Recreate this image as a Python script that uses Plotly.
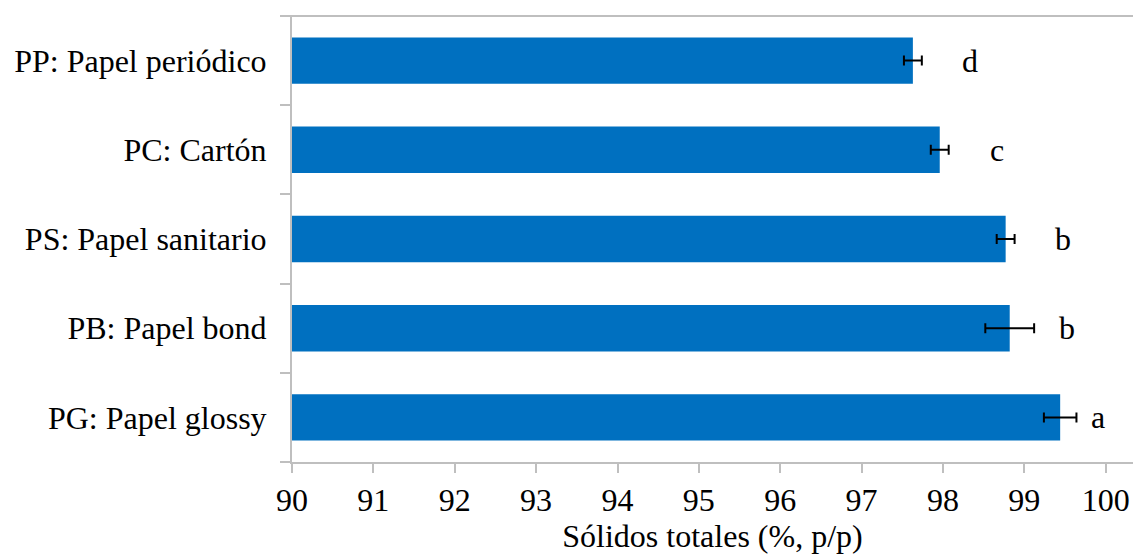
import plotly.graph_objects as go

# Total solids by paper type (mean ± SD) with significance letters
categories = [
    "PG: Papel glossy",
    "PB: Papel bond",
    "PS: Papel sanitario",
    "PC: Cartón",
    "PP: Papel periódico",
]
solids = [99.44, 98.82, 98.77, 97.96, 97.63]
sd = [0.20, 0.30, 0.11, 0.11, 0.11]
letters = ["a", "b", "b", "c", "d"]
x_ticks = list(range(90, 101))

FONT = "Liberation Serif, Times New Roman, serif"
GREY = "#bfbfbf"
FS = 32

fig = go.Figure()
fig.add_trace(go.Bar(
    y=categories,
    x=solids,
    base=0,
    orientation="h",
    marker=dict(color="#0070c0", line=dict(width=0)),
    error_x=dict(type="data", array=sd, visible=True,
                 color="black", thickness=2, width=5),
    showlegend=False,
))

# Significance letters to the right of each bar
for cat, v, e, lab in zip(categories, solids, sd, letters):
    fig.add_annotation(
        x=min(v + 0.7, 99.9), y=cat, text=lab, showarrow=False,
        xanchor="center", yanchor="middle",
        font=dict(family=FONT, size=FS, color="black"),
    )

# Frame line along the top of the plot area
fig.add_shape(type="line", xref="paper", yref="paper",
              x0=-10 / 841, x1=1, y0=1, y1=1,
              line=dict(color=GREY, width=2))

fig.update_layout(
    width=1133, height=557,
    margin=dict(l=292, r=0, t=16, b=95),
    paper_bgcolor="white", plot_bgcolor="white",
    bargap=0.48,
    font=dict(family=FONT, size=FS, color="black"),
    xaxis=dict(
        range=[90, 100.335], tickvals=x_ticks, ticktext=[str(t) for t in x_ticks],
        showgrid=False, zeroline=False,
        showline=True, linecolor=GREY, linewidth=2,
        ticks="outside", ticklen=9, tickcolor=GREY, tickwidth=2,
        tickfont=dict(family=FONT, size=FS, color="black"),
        ticklabelstandoff=0,
        title=dict(text="Sólidos totales (%, p/p)", standoff=6,
                   font=dict(family=FONT, size=FS, color="black")),
    ),
    yaxis=dict(
        showgrid=False, zeroline=False,
        showline=True, linecolor=GREY, linewidth=2,
        ticks="outside", ticklen=10, tickcolor=GREY, tickwidth=2,
        tickson="boundaries",
        tickfont=dict(family=FONT, size=FS, color="black"),
        ticklabelstandoff=17,
    ),
)

fig.write_html("out.html")
